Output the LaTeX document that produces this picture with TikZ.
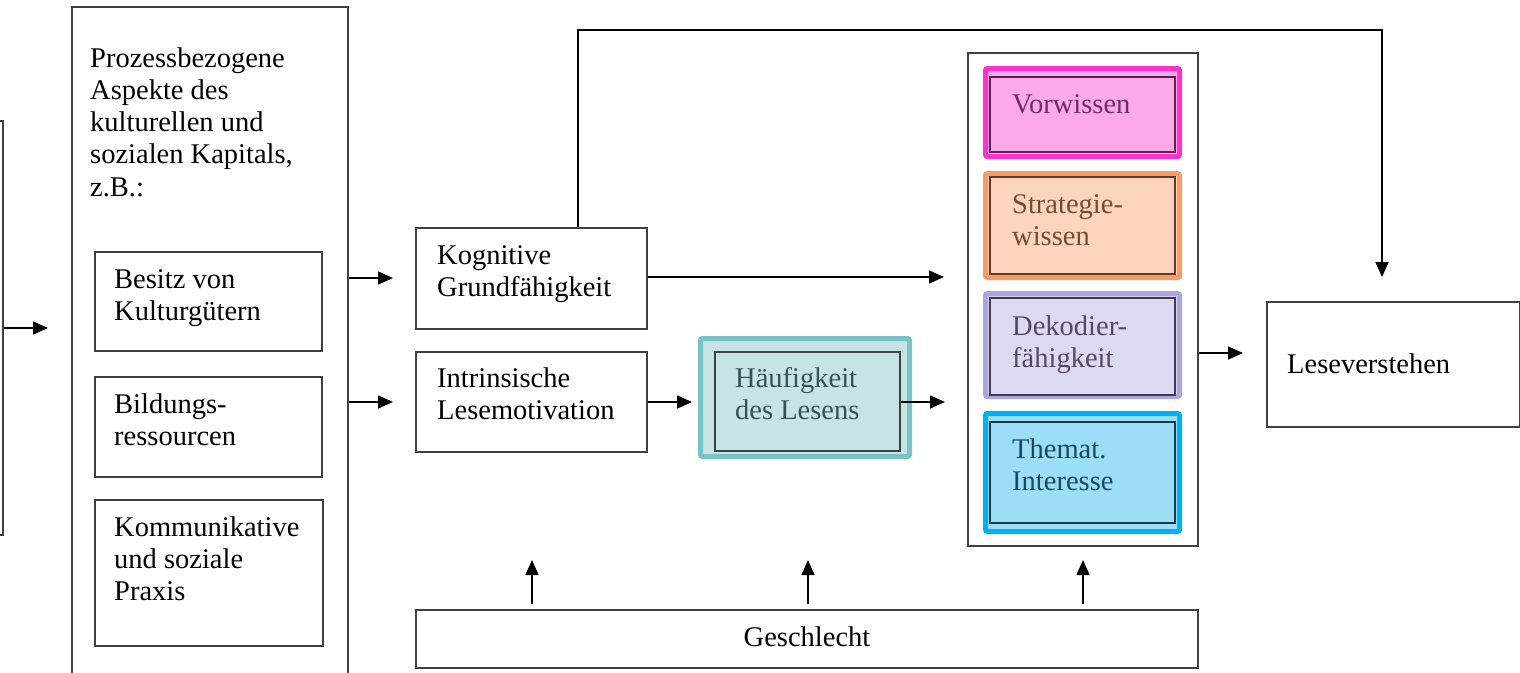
\documentclass[tikz,border=0pt]{standalone}
\usepackage{fontspec}
\setmainfont{Liberation Serif}
\usetikzlibrary{arrows.meta,fit}
\newcommand\mlines[1]{\vtop{\baselineskip=32.3pt\lineskiplimit=-20pt\halign{##\hfil\cr#1\crcr}}}
\definecolor{lineC}{HTML}{404040}
\definecolor{vorF}{HTML}{FCA9EA}
\definecolor{vorB}{HTML}{FF33CC}
\definecolor{vorT}{HTML}{6E2C6C}
\definecolor{strF}{HTML}{FDD5BF}
\definecolor{strB}{HTML}{FA9A66}
\definecolor{strT}{HTML}{7A4A33}
\definecolor{dekF}{HTML}{DCDAF2}
\definecolor{dekB}{HTML}{ABA6DE}
\definecolor{dekT}{HTML}{5A4660}
\definecolor{theF}{HTML}{9CDEF7}
\definecolor{theB}{HTML}{00B0F0}
\definecolor{theT}{HTML}{1A4A5A}
\definecolor{haeF}{HTML}{C6E4E6}
\definecolor{haeB}{HTML}{78C2C8}
\definecolor{haeT}{HTML}{35525A}
\begin{document}
\begin{tikzpicture}[x=1pt,y=-1pt,
  font=\fontsize{28.5}{32.3}\selectfont,
  bx/.style={draw=lineC,line width=1.4pt,inner sep=0pt,rectangle},
  outerbx/.style={line width=5pt,inner sep=0pt,rectangle,rounded corners=2pt},
  innerbx/.style={line width=1.3pt,inner sep=0pt,rectangle},
  txt/.style={anchor=base west,inner sep=0pt},
  arr/.style={draw=black,line width=1.6pt,-{Triangle[length=15pt,width=13pt]}},
  ln/.style={draw=lineC,line width=1.4pt}]
\useasboundingbox (0,0) rectangle (1520,672);

% left partial box
\node[bx,fit={(-20,121)(3,535)}] (soc) {};
% big process box
\node[bx,fit={(72,7)(348,700)}] (proz) {};
\node[txt] (prozT) at (90,67) {\mlines{Prozessbezogene\cr Aspekte des\cr kulturellen und\cr sozialen Kapitals,\cr z.B.:}};
\node[bx,fit={(95,252)(322,351)}] (besitz) {};
\node[txt] (besitzT) at (114,288) {\mlines{Besitz von\cr Kulturgütern}};
\node[bx,fit={(95,377)(322,477)}] (bild) {};
\node[txt] (bildT) at (114,413) {\mlines{Bildungs-\cr ressourcen}};
\node[bx,fit={(95,500)(323,646)}] (komm) {};
\node[txt] (kommT) at (114,536) {\mlines{Kommunikative\cr und soziale\cr Praxis}};

% middle boxes
\node[bx,fit={(416,228)(647,329)}] (kog) {};
\node[txt] (kogT) at (437,264) {\mlines{Kognitive\cr Grundfähigkeit}};
\node[bx,fit={(416,352)(647,452)}] (intr) {};
\node[txt] (intrT) at (437,387) {\mlines{Intrinsische\cr Lesemotivation}};

% Haeufigkeit
\node[outerbx,draw=haeB,fill=haeF,fit={(700.5,338.5)(909.5,456.5)}] (haeO) {};
\node[innerbx,draw=lineC,fill=haeF,fit={(715,352)(900,451)}] (hae) {};
\node[txt,text=haeT] (haeT) at (735,387) {\mlines{Häufigkeit\cr des Lesens}};

% container
\node[bx,fit={(968,53)(1198,546)}] (cont) {};
\node[outerbx,draw=vorB,fill=vorF,fit={(985.5,68.5)(1179.5,156.5)}] (vorO) {};
\node[innerbx,draw=vorT!80!black,fill=vorF,fit={(990,77)(1175,152)}] (vor) {};
\node[txt,text=vorT] (vorT) at (1012,113) {Vorwissen};
\node[outerbx,draw=strB,fill=strF,fit={(985.5,173.5)(1179.5,277.5)}] (strO) {};
\node[innerbx,draw=strT!80!black,fill=strF,fit={(990,177)(1175,274)}] (str) {};
\node[txt,text=strT] (strTx) at (1012,213) {\mlines{Strategie-\cr wissen}};
\node[outerbx,draw=dekB,fill=dekF,fit={(985.5,293.5)(1179.5,396.5)}] (dekO) {};
\node[innerbx,draw=dekT!80!black,fill=dekF,fit={(990,298)(1175,395)}] (dek) {};
\node[txt,text=dekT] (dekTx) at (1012,335) {\mlines{Dekodier-\cr fähigkeit}};
\node[outerbx,draw=theB,fill=theF,fit={(985.5,413.5)(1179.5,531.5)}] (theO) {};
\node[innerbx,draw=theT!80!black,fill=theF,fit={(990,422)(1175,523)}] (the) {};
\node[txt,text=theT] (theTx) at (1012,458) {\mlines{Themat.\cr Interesse}};

% Leseverstehen
\node[bx,fit={(1267,302)(1520,427)}] (lese) {};
\node[txt] (leseT) at (1287,373) {Leseverstehen};

% Geschlecht
\node[bx,fit={(416,610)(1198,668)}] (gesch) {};
\node (geschT) at (807,637) {Geschlecht};

% coordinates for free arrow ends
\coordinate (e1) at (48,328);
\coordinate (e2) at (393,278);
\coordinate (e3) at (393,402);
\coordinate (e4) at (944,277);
\coordinate (e5) at (692,402);
\coordinate (e6) at (945,402);
\coordinate (e7) at (1243,353);
\coordinate (t1) at (578,30);
\coordinate (t2) at (1382,30);
\coordinate (e8) at (1382,277);
\coordinate (g1) at (532,604);
\coordinate (g1e) at (532,560);
\coordinate (g2) at (808,604);
\coordinate (g2e) at (808,560);
\coordinate (g3) at (1083,604);
\coordinate (g3e) at (1083,560);

% connectors
\draw[arr] (e1 -| soc.east) -- (e1);
\draw[arr] (e2 -| proz.east) -- (e2);
\draw[arr] (e3 -| proz.east) -- (e3);
\draw[arr] (e4 -| kog.east) -- (e4);
\draw[arr] (e5 -| intr.east) -- (e5);
\draw[arr] (e6 -| hae.east) -- (e6);
\draw[arr] (e7 -| cont.east) -- (e7);
\draw[arr] (t1 |- kog.north) -- (t1) -- (t2) -- (e8);
\draw[arr] (g1) -- (g1e);
\draw[arr] (g2) -- (g2e);
\draw[arr] (g3) -- (g3e);
\end{tikzpicture}
\end{document}
